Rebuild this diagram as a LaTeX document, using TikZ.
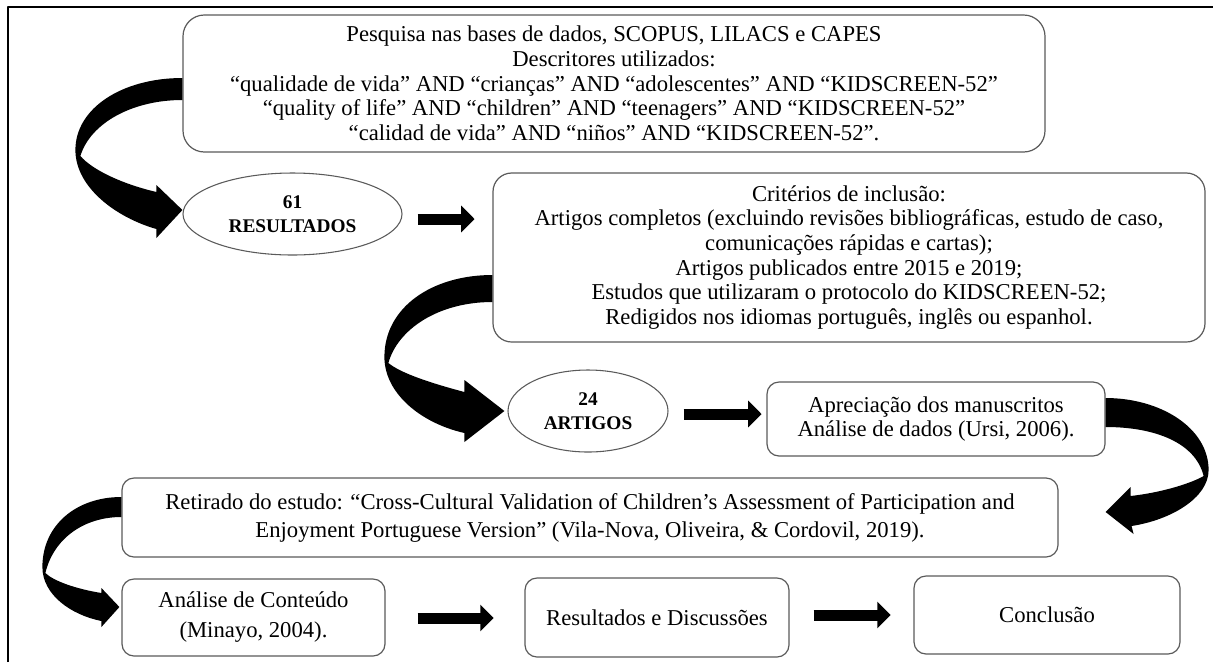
\documentclass[tikz,border=0pt]{standalone}
\usepackage{fontspec}
\setmainfont{Liberation Serif}
\usetikzlibrary{arrows.meta,calc,shapes.geometric}
\definecolor{boxgray}{HTML}{5A5A5A}

\begin{document}
\begin{tikzpicture}[
		x=0.75pt,
		y=-0.75pt,
		line join=round,
		box/.style={draw=boxgray,line width=0.9pt,rounded corners=9pt,fill=white,align=center,inner sep=0pt,font=\fontsize{17}{18.5}\selectfont},
		oval/.style={ellipse,draw=boxgray,line width=0.8pt,fill=white,align=center,inner sep=0pt,font=\fontsize{14.5}{18}\selectfont\bfseries},
		blockarrow/.style={line width=8.25pt,-{Triangle[length=10pt,width=19.5pt]}},
		bent/.style={fill=black},
		frame/.style={line width=2pt}
	]
	\useasboundingbox (0,0) rectangle (1213,662);
	
	% Frame (left and top only)
	\draw[frame] (8,662) -- (8,7) -- (1213,7);
	
	% Steps
	\node[box,rounded corners=16pt,minimum width=646.5pt,minimum height=102.75pt] (busca) at (614,83.5)
	{Pesquisa nas bases de dados, SCOPUS, LILACS e CAPES\\
		Descritores utilizados:\\
		“qualidade de vida” AND “crianças” AND “adolescentes” AND “KIDSCREEN-52”\\
		“quality of life” AND “children” AND “teenagers” AND “KIDSCREEN-52”\\
		“calidad de vida” AND “niños” AND “KIDSCREEN-52”.};
	\node[oval,minimum width=164.25pt,minimum height=61.5pt] (res61) at (292.5,214) {61\\RESULTADOS};
	\node[box,rounded corners=14pt,minimum width=534pt,minimum height=126.75pt] (crit) at (849,257.5)
	{Critérios de inclusão:\\
		Artigos completos (excluindo revisões bibliográficas, estudo de caso,\\
		comunicações rápidas e cartas);\\
		Artigos publicados entre 2015 e 2019;\\
		Estudos que utilizaram o protocolo do KIDSCREEN-52;\\
		Redigidos nos idiomas português, inglês ou espanhol.};
	\node[oval,minimum width=120pt,minimum height=61.5pt] (art24) at (588,411) {24\\ARTIGOS};
	\node[box,minimum width=253.5pt,minimum height=55.5pt] (aprec) at (936,419)
	{Apreciação dos manuscritos\\Análise de dados (Ursi, 2006).};
	\node[box,minimum width=702pt,minimum height=59.25pt,font=\fontsize{17}{21}\selectfont] (retir) at (590,517.5)
	{Retirado do estudo: “Cross-Cultural Validation of Children’s Assessment of Participation and\\
		Enjoyment Portuguese Version” (Vila-Nova, Oliveira, \& Cordovil, 2019).};
	\node[box,minimum width=197.25pt,minimum height=57.75pt,font=\fontsize{17}{22.5}\selectfont] (conteudo) at (253.5,617.5)
	{Análise de Conteúdo\\(Minayo, 2004).};
	\node[box,minimum width=198pt,minimum height=59.25pt] (resdisc) at (657,617.5) {Resultados e Discussões};
	\node[box,minimum width=199.5pt,minimum height=58.5pt] (concl) at (1047,615) {Conclusão};
	
	% Straight arrows
	\draw[blockarrow] ($(res61.east)+(15,5)$) -- ++(57,0);
	\draw[blockarrow] ($(art24.east)+(15,3)$) -- ++(78,0);
	\draw[blockarrow] ($(conteudo.east)+(32,0.5)$) -- ++(76,0);
	\draw[blockarrow] ($(resdisc.east)+(24,-2.5)$) -- ++(77,0);
	
	% Curved arrows
	\begin{scope}[shift={($(busca.west)+(0,-5.5)$)}]
		\fill[bent] (0,0) .. controls (-60,0) and (-107,30) .. (-107,72)
		.. controls (-107,110) and (-65,140) .. (-26,151)
		-- (-26,160) -- (0,132) -- (-26,107) -- (-26,114)
		.. controls (-60,106) and (-90,92) .. (-102,78)
		.. controls (-92,45) and (-50,22) .. (0,22) -- cycle;
	\end{scope}
	\begin{scope}[shift={($(crit.west)+(0,17.5)$)}]
		\fill[bent] (0,0) .. controls (-60,0) and (-108,32) .. (-108,82)
		.. controls (-108,118) and (-72,148) .. (-28,158)
		-- (-28,167) -- (12,136) -- (-28,105) -- (-28,117)
		.. controls (-62,108) and (-92,98) .. (-104,88)
		.. controls (-95,55) and (-55,27) .. (0,27) -- cycle;
	\end{scope}
	\begin{scope}[shift={($(aprec.east)+(0,-21)$)}]
		\fill[bent] (0,0) .. controls (55,0) and (103,30) .. (103,72)
		.. controls (103,100) and (65,122) .. (26,128)
		-- (28,136) -- (0,114) -- (25,89) -- (25,98)
		.. controls (60,94) and (88,84) .. (98,78)
		.. controls (90,45) and (50,29) .. (0,29) -- cycle;
	\end{scope}
	\begin{scope}[shift={($(retir.west)+(0,-20.5)$)}]
		\fill[bent] (0,0) .. controls (-45,0) and (-79,28) .. (-79,70)
		.. controls (-79,98) and (-50,118) .. (-20,124)
		-- (-20,130) -- (-2,110) -- (-20,91) -- (-20,96)
		.. controls (-45,92) and (-68,84) .. (-76,76)
		.. controls (-68,42) and (-38,20) .. (0,20) -- cycle;
	\end{scope}
	
\end{tikzpicture}
\end{document}
